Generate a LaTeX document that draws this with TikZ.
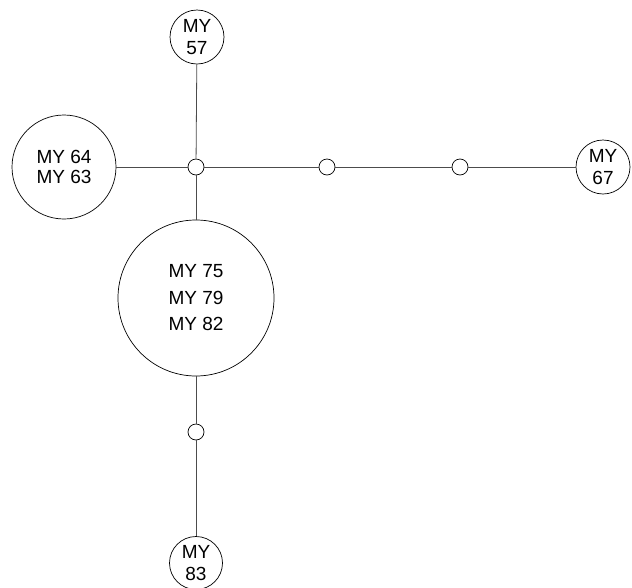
\documentclass[tikz,border=0pt]{standalone}
\usepackage{fontspec}
\setmainfont{Liberation Sans}
\begin{document}
\begin{tikzpicture}[x=1pt,y=-1pt,
  hap/.style={circle,draw=black,line width=0.7pt,inner sep=0pt,fill=white,align=center},
  med/.style={circle,draw=black,line width=0.7pt,inner sep=0pt,minimum size=16pt,fill=white},
  link/.style={draw=black!70,line width=0.8pt}]
\useasboundingbox (0,0) rectangle (632,587);
\node[hap,minimum size=54pt,font=\fontsize{19}{21.5}\selectfont] (a57) at (197,37) {MY\\57};
\node[hap,minimum size=104pt,font=\fontsize{19}{19.5}\selectfont] (a64) at (64,167) {MY 64\\MY 63};
\node[hap,minimum size=54pt,font=\fontsize{19}{21.5}\selectfont] (a67) at (603,167) {MY\\67};
\node[hap,minimum size=156pt,font=\fontsize{19}{26.5}\selectfont] (big) at (196,298) {MY 75\\MY 79\\MY 82};
\node[hap,minimum size=53pt,font=\fontsize{19}{21.5}\selectfont] (a83) at (196,563) {MY\\83};
\node[med] (j) at (196,167) {};
\node[med] (s1) at (327,167) {};
\node[med] (s2) at (460,167) {};
\node[med] (s3) at (196,432) {};
\draw[link] (j) -- (a57);
\draw[link] (j) -- (a64);
\draw[link] (j) -- (s1);
\draw[link] (s1) -- (s2);
\draw[link] (s2) -- (a67);
\draw[link] (j) -- (big);
\draw[link] (big) -- (s3);
\draw[link] (s3) -- (a83);
\end{tikzpicture}
\end{document}
